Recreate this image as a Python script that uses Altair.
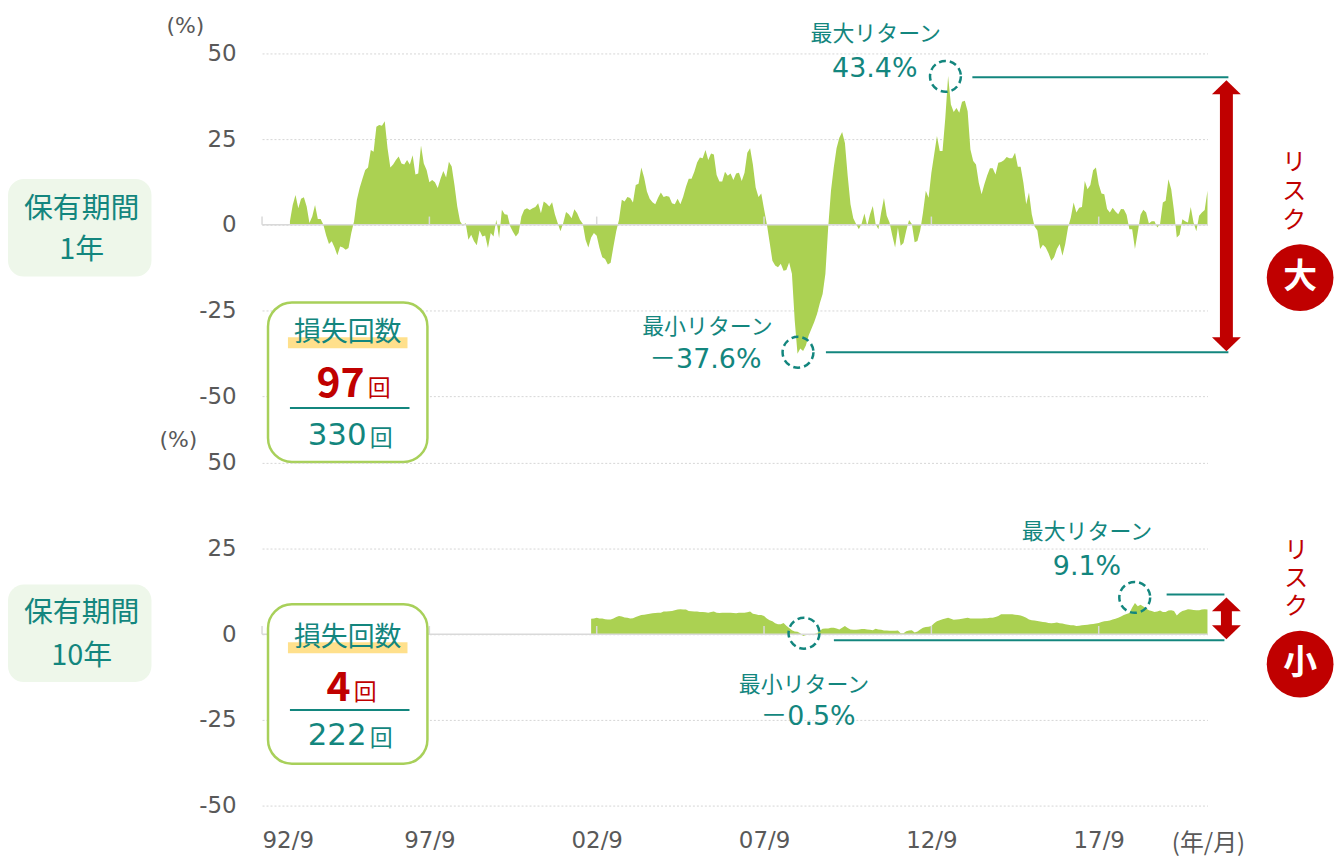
import json
import altair as alt
import pandas as pd

FONT = "Noto Sans CJK JP"
NUMFONT = "DejaVu Sans, Noto Sans CJK JP"
TEAL = "#13867e"
GREEN = "#abd152"
RED = "#c00000"
GREY = "#595959"

# ---- data ----
x_tick_months = [0, 60, 120, 180, 240, 300]          # months since 1992/9
x_tick_labels = ["92/9", "97/9", "02/9", "07/9", "12/9", "17/9"]
y_ticks = [-50, -25, 0, 25, 50]

start_1y = 10   # first month index of the 1-year series
ret_1y = [
    1.0, 5.8, 8.7, 4.8, 7.6, 8.0, 5.3, 0.5, 2.4, 5.8,
    1.7, 1.7, 0.0, -3.1, -5.6, -4.8, -6.6, -8.9, -6.3, -6.6,
    -7.3, -6.8, -2.4, 1.0, 7.3, 10.7, 13.4, 16.0, 16.7, 21.8,
    21.3, 28.6, 29.1, 28.9, 30.2, 22.3, 16.7, 17.6, 18.9, 19.9,
    17.9, 17.6, 18.9, 17.6, 20.3, 14.7, 15.0, 23.1, 17.9, 16.0,
    12.4, 13.1, 12.4, 10.7, 13.4, 15.7, 13.8, 18.4, 17.0, 11.6,
    5.3, 1.0, -0.2, 0.5, -4.4, -2.9, -4.8, -6.0, -1.7, -3.4,
    -3.1, -6.8, -2.4, -3.4, 1.5, -3.9, 4.4, 3.1, 2.9, -0.5,
    -2.1, -3.4, -2.4, 2.4, 4.4, 4.8, 4.3, 4.8, 5.2, 6.3,
    3.4, 6.8, 6.2, 5.3, 6.6, 3.1, 0.5, -1.9, 0.5, 3.7,
    3.1, 1.9, 4.5, 3.4, 1.5, 0.3, -4.4, -6.6, -3.7, -2.4,
    -3.2, -6.8, -9.5, -10.0, -11.6, -11.1, -6.3, -1.9, 1.5, 7.3,
    6.8, 8.1, 7.8, 6.5, 11.6, 12.0, 16.7, 13.8, 9.7, 7.6,
    6.6, 6.0, 7.9, 9.4, 8.1, 8.4, 8.2, 6.3, 6.0, 7.6,
    6.0, 8.2, 11.1, 13.4, 13.4, 15.5, 18.2, 19.6, 19.4, 21.8,
    18.9, 20.8, 20.5, 14.5, 12.6, 12.6, 15.5, 14.3, 15.0, 13.1,
    15.0, 15.2, 12.8, 15.2, 21.0, 22.3, 17.6, 10.9, 8.1, 9.1,
    4.6, 0.2, -5.1, -10.5, -11.9, -12.4, -11.4, -13.4, -13.2, -11.0,
    -14.3, -27.9, -37.6, -36.1, -36.8, -35.2, -32.3, -30.3, -28.4, -26.0,
    -22.9, -20.2, -14.3, -0.8, 9.9, 16.7, 22.3, 25.4, 27.1, 23.9,
    14.2, 6.0, 1.9, 0.2, -1.3, 0.4, 3.3, -0.3, 3.1, 5.5,
    0.2, -1.3, 3.6, 7.8, 2.6, 0.7, -3.2, -6.6, -0.8, -6.1,
    -5.3, -1.7, 1.4, 0.2, -5.1, -4.7, -1.7, 3.6, 9.9, 7.9,
    15.2, 20.5, 25.9, 21.5, 21.5, 31.2, 43.4, 35.1, 32.9, 34.1,
    32.7, 35.9, 36.2, 33.1, 22.0, 18.6, 17.6, 12.3, 8.9, 11.8,
    14.4, 16.5, 16.5, 14.7, 18.1, 18.3, 18.8, 19.8, 19.4, 19.4,
    21.0, 16.9, 16.9, 12.3, 6.0, 9.4, 3.1, -0.5, -1.7, -7.1,
    -5.8, -6.6, -8.3, -10.5, -9.5, -7.1, -5.6, -9.0, -5.6, -0.8,
    2.1, 6.5, 3.6, 5.0, 5.2, 12.8, 10.4, 11.6, 15.9, 16.7,
    11.8, 9.1, 8.9, 4.6, 3.6, 5.0, 3.9, 3.1, 4.6, 4.5,
    2.9, -1.3, -1.3, -7.1, -2.2, 2.9, 4.4, 3.6, 0.4, 1.0,
    1.0, -0.8, 0.2, 6.5, 7.0, 13.3, 10.4, 4.1, -3.7, -2.9,
    1.6, 1.0, 0.7, 5.2, 0.7, -1.9, 2.6, 3.6, 4.3, 9.9,
]

start_10y = 118  # first month index of the 10-year series
ret_10y = [
    4.5, 4.6, 4.8, 4.6, 4.6, 4.4, 4.3, 4.3, 4.6, 5.0,
    5.3, 5.2, 4.9, 4.8, 4.6, 4.7, 5.0, 5.3, 5.6, 5.7,
    5.8, 6.0, 6.1, 6.2, 6.3, 6.3, 6.6, 6.6, 6.7, 6.8,
    7.0, 7.2, 7.3, 7.2, 7.2, 6.8, 6.7, 6.6, 6.6, 6.5,
    6.5, 6.4, 6.3, 6.5, 6.6, 6.3, 6.2, 6.3, 6.3, 6.3,
    6.3, 6.2, 6.1, 6.3, 6.3, 6.3, 6.4, 6.6, 6.0, 5.8,
    5.6, 5.6, 5.3, 4.6, 4.1, 3.8, 3.2, 2.9, 2.9, 3.3,
    2.5, 1.8, 1.2, 0.8, 0.7, 0.3, -0.5, -0.2, -0.1, -0.1,
    0.1, 0.3, 1.0, 1.6, 1.7, 1.7, 1.9, 1.9, 1.7, 1.4,
    1.9, 2.4, 1.8, 1.4, 1.3, 1.3, 1.4, 1.5, 1.5, 1.4,
    1.3, 1.2, 1.6, 1.4, 1.3, 1.1, 1.1, 1.0, 1.0, 1.0,
    1.1, 0.3, 0.3, 0.9, 1.1, 1.2, 0.5, 0.8, 1.4, 1.9,
    2.1, 2.2, 2.4, 3.2, 3.8, 4.1, 4.4, 4.6, 4.8, 4.5,
    4.2, 4.3, 4.4, 4.5, 4.7, 4.8, 4.6, 4.6, 4.6, 4.6,
    4.6, 4.7, 4.7, 4.8, 4.8, 5.0, 5.3, 5.8, 5.8, 5.8,
    5.8, 5.8, 5.7, 5.6, 5.5, 5.2, 4.8, 4.3, 4.1, 4.0,
    3.9, 3.7, 3.6, 3.5, 3.3, 3.2, 3.3, 3.4, 3.2, 3.1,
    2.9, 2.8, 2.6, 2.6, 2.4, 2.5, 2.6, 2.7, 2.8, 2.9,
    3.0, 3.1, 3.3, 3.6, 3.8, 3.9, 4.0, 4.3, 4.5, 4.8,
    5.2, 5.6, 5.9, 6.2, 7.8, 9.1, 8.2, 8.6, 8.1, 7.5,
    7.0, 6.8, 6.5, 6.6, 6.9, 6.5, 6.5, 6.9, 7.0, 6.8,
    5.5, 6.3, 6.8, 7.0, 7.3, 7.2, 7.1, 7.0, 7.0, 7.2,
    7.3, 7.2,
]

loss_1y, total_1y = 97, 330
loss_10y, total_10y = 4, 222
max_1y_label, min_1y_label = "43.4%", "－37.6%"
max_10y_label, min_10y_label = "9.1%", "－0.5%"

# ---- layout constants ----
W, H = 949, 344
X0 = 262          # page x of the plot area's left edge
TOP1, TOP2 = 52, 463

df1 = pd.DataFrame({"m": list(range(start_1y, start_1y + len(ret_1y))), "v": ret_1y})
df2 = pd.DataFrame({"m": list(range(start_10y, start_10y + len(ret_10y))), "v": ret_10y})
one = pd.DataFrame({"k": [0]})
tick_df = pd.DataFrame({"m": x_tick_months})

xscale = alt.Scale(domain=[0, 339], nice=False, zero=False)
yscale = alt.Scale(domain=[-50, 50], nice=False)

label_expr = "%s[indexof(%s, datum.value)]" % (json.dumps(x_tick_labels), json.dumps(x_tick_months))

YAXIS = alt.Axis(values=y_ticks, grid=True, gridDash=[2, 2], gridColor="#d6d6d6", gridWidth=1,
                 domain=False, ticks=False, labelFontSize=23, labelColor=GREY, labelFont=NUMFONT,
                 labelPadding=26, title=None, labelExpr="'' + datum.value")
XAXIS = alt.Axis(values=x_tick_months, labelExpr=label_expr, grid=False, domain=False,
                 ticks=False, labelFontSize=23, labelColor=GREY, labelFont=NUMFONT,
                 labelPadding=24, title=None)


def base_layers(df, show_x):
    xaxis = XAXIS if show_x else None
    a = alt.Chart(df).mark_area(color=GREEN, interpolate="linear").encode(
        x=alt.X("m:Q", scale=xscale, axis=xaxis),
        y=alt.Y("v:Q", scale=yscale, stack=None, axis=YAXIS),
        y2=alt.datum(0),
    )
    z = alt.Chart(one).mark_rule(color="#d9d9d9", strokeWidth=1.5).encode(
        y=alt.YDatum(0, scale=yscale, axis=YAXIS))
    t = alt.Chart(tick_df).mark_rule(color="#d9d9d9", strokeWidth=1.5).encode(
        x=alt.X("m:Q", scale=xscale, axis=xaxis),
        y=alt.YDatum(0, scale=yscale, axis=YAXIS), y2=alt.datum(2.4))
    return [a, z, t]


def txt(s, x, y, top, size, color=TEAL, weight="normal", align="center", font=FONT,
        baseline="middle", **extra):
    return alt.Chart(one).mark_text(text=s, font=font, fontSize=size, color=color,
                                    fontWeight=weight, align=align, baseline=baseline, **extra).encode(
        x=alt.value(x - X0), y=alt.value(y - top))


def box(x1, x2, y1, y2, top, fill, r, stroke=None, sw=0):
    kw = dict(fill=fill, cornerRadius=r)
    if stroke:
        kw.update(stroke=stroke, strokeWidth=sw)
    return alt.Chart(one).mark_rect(**kw).encode(
        x=alt.value(x1 - X0), x2=alt.value(x2 - X0), y=alt.value(y1 - top), y2=alt.value(y2 - top))


def hline(x1, x2, y, top, color=TEAL, sw=2):
    return alt.Chart(one).mark_rule(color=color, strokeWidth=sw).encode(
        x=alt.value(x1 - X0), x2=alt.value(x2 - X0), y=alt.value(y - top))


def dash_circle(x, y, top, d=31):
    return alt.Chart(one).mark_point(shape="circle", filled=False, size=d * d, stroke=TEAL,
                                     strokeWidth=2.5, strokeDash=[7, 4], opacity=1).encode(
        x=alt.value(x - X0), y=alt.value(y - top))


def arrow(x, ytip1, ytip2, top, head_h=14, head_w=29, shaft=13):
    hh = head_h / head_w
    up = "M-1,%.3fL0,%.3fL1,%.3fZ" % (hh, -hh, hh)
    down = "M-1,%.3fL0,%.3fL1,%.3fZ" % (-hh, hh, -hh)
    return [
        alt.Chart(one).mark_rule(color=RED, strokeWidth=shaft, strokeCap="butt").encode(
            x=alt.value(x - X0), y=alt.value(ytip1 + head_h - 1 - top), y2=alt.value(ytip2 - head_h + 1 - top)),
        alt.Chart(one).mark_point(shape=up, filled=True, color=RED, size=head_w * head_w, opacity=1).encode(
            x=alt.value(x - X0), y=alt.value(ytip1 + head_h / 2 - top)),
        alt.Chart(one).mark_point(shape=down, filled=True, color=RED, size=head_w * head_w, opacity=1).encode(
            x=alt.value(x - X0), y=alt.value(ytip2 - head_h / 2 - top)),
    ]


def risk(x, y_top, step, top, word, cy):
    return [
        txt("リ\nス\nク", x, y_top, top, 24, color=RED, baseline="top", lineBreak="\n", lineHeight=step),
        alt.Chart(one).mark_point(shape="circle", filled=True, color=RED, size=67 * 67,
                                  opacity=1).encode(x=alt.value(1304 - X0), y=alt.value(cy - top)),
        txt(word, 1304, cy, top, 34, color="white", weight="bold"),
    ]


def loss_box(top, y_box1, y_box2, y_title, y_num, y_line, y_tot, loss, total, num_right):
    return [
        box(268, 428, y_box1, y_box2, top, "white", 24, stroke="#a8d05a", sw=2.5),
        box(288, 408, y_title + 4, y_title + 15, top, "#ffe08c", 0),
        txt("損失回数", 348, y_title, top, 27),
        txt(str(loss), num_right, y_num, top, 41, color=RED, weight="bold", align="right"),
        txt("回", num_right + 3, y_num + 4, top, 23, color=RED, align="left"),
        hline(290, 410, y_line, top, sw=2),
        txt(str(total), 367, y_tot, top, 31, align="right", font=NUMFONT),
        txt("回", 370, y_tot + 3, top, 23, align="left"),
    ]


def hold_label(top, y1, y2, line1, line2, ya, yb):
    return [
        box(7, 151, y1, y2, top, "#eef7ea", 16),
        txt(line1, 81, ya, top, 29),
        txt(line2, 81, yb, top, 29),
    ]


top_layers = base_layers(df1, False)
top_layers += hold_label(TOP1, 178, 276, "保有期間", "1年", 208, 249)
top_layers += loss_box(TOP1, 302, 462, 333, 385, 408, 436, loss_1y, total_1y, 365)
top_layers += [
    txt("(%)", 185, 24, TOP1, 22, color=GREY, font=NUMFONT),
    txt("最大リターン", 878, 33, TOP1, 22),
    txt(max_1y_label, 877, 68, TOP1, 27, font=NUMFONT),
    dash_circle(948, 75, TOP1),
    hline(975, 1232, 76, TOP1),
    txt("最小リターン", 709, 327, TOP1, 22),
    txt(min_1y_label, 707, 360, TOP1, 27, font=NUMFONT),
    dash_circle(800, 352, TOP1),
    hline(828, 1232, 352, TOP1),
]
top_layers += arrow(1230, 79, 351, TOP1)
top_layers += risk(1298, 150, 29, TOP1, "大", 277)

bot_layers = base_layers(df2, True)
bot_layers += hold_label(TOP2, 585, 683, "保有期間", "10年", 614, 657)
bot_layers += loss_box(TOP2, 605, 765, 639, 690, 711, 737, loss_10y, total_10y, 351)
bot_layers += [
    txt("(%)", 178, 440, TOP2, 22, color=GREY, font=NUMFONT),
    txt("(年/月)", 1212, 846, TOP2, 24, color=GREY),
    txt("最大リターン", 1090, 532, TOP2, 22),
    txt(max_10y_label, 1090, 568, TOP2, 27, font=NUMFONT),
    dash_circle(1138, 598, TOP2),
    hline(1170, 1228, 595, TOP2),
    txt("最小リターン", 806, 686, TOP2, 22),
    txt(min_10y_label, 810, 718, TOP2, 27, font=NUMFONT),
    dash_circle(806, 634, TOP2),
    hline(836, 1228, 641, TOP2),
]
bot_layers += arrow(1230, 598, 640, TOP2, head_h=14, head_w=29, shaft=11)
bot_layers += risk(1300, 539, 28.5, TOP2, "小", 665)

top = alt.layer(*top_layers).properties(width=W, height=H)
bot = alt.layer(*bot_layers).properties(width=W, height=H)

chart = alt.vconcat(top, bot, spacing=67, bounds="flush").properties(
    padding={"left": 0, "top": 5, "right": 0, "bottom": 0},
    background="white",
).configure_view(stroke=None)

chart.save("out.html", embed_options={"renderer": "svg", "actions": False})
